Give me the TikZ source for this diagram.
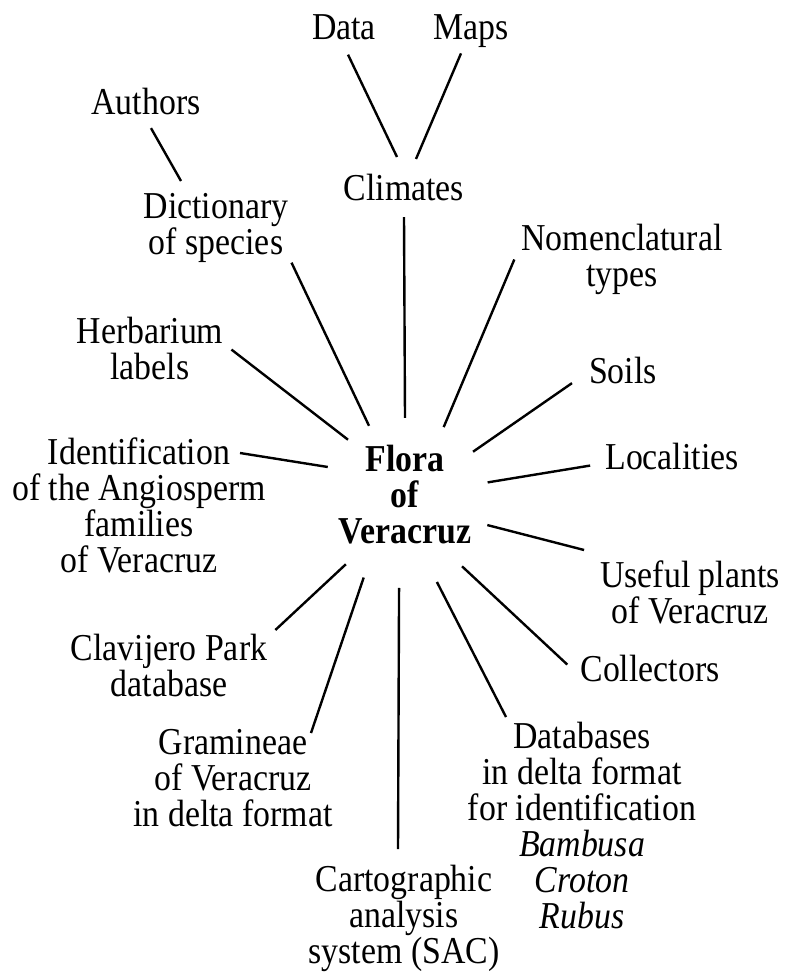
\documentclass[tikz,border=0pt]{standalone}
\usepackage{fontspec}
\setmainfont[FakeStretch=0.89]{Liberation Serif}
\usetikzlibrary{calc}

\begin{document}
\begin{tikzpicture}[x=0.5pt, y=-0.5pt, line width=1.2pt,
  lbl/.style={align=center, anchor=north, inner sep=0pt, font=\fontsize{19}{18}\selectfont},
  title/.style={align=center, inner sep=0pt, font=\fontsize{19}{18}\selectfont\bfseries},
  hub/.style={circle, minimum size=84pt, inner sep=0pt}]
\useasboundingbox (0,0) rectangle (784,973);
% the hub: text sits a little above the centre of the ring of spokes
\node[hub, label={[title, yshift=4pt]center:{Flora\\of\\Veracruz}}] (flora) at (405,503) {};
% topics around it
\node[lbl] (data) at (344,13) {Data};
\node[lbl] (maps) at (471,13) {Maps};
\node[lbl] (authors) at (146,87) {Authors};
\node[lbl] (climates) at (404,173) {Climates};
\node[lbl] (dict) at (216,192) {Dictionary\\of species};
\node[lbl] (nomen) at (622,223) {Nomenclatural\\types};
\node[lbl] (herb) at (150,316) {Herbarium\\labels};
\node[lbl] (soils) at (623,356) {Soils};
\node[lbl] (ident) at (139,437) {Identification\\of the Angiosperm\\families\\of Veracruz};
\node[lbl] (local) at (672,442) {Localities};
\node[lbl] (useful) at (690,560) {Useful plants\\of Veracruz};
\node[lbl] (clav) at (169,633) {Clavijero Park\\database};
\node[lbl] (coll) at (650,654) {Collectors};
\node[lbl] (gram) at (233,728) {Gramineae\\of Veracruz\\in delta format};
\node[lbl] (dbase) at (582,721) {Databases\\in delta format\\for identification\\\textit{Bambusa}\\\textit{Croton}\\\textit{Rubus}};
\node[lbl] (carto) at (404,864) {Cartographic\\analysis\\system (SAC)};
% second level
\draw ($(data.south)+(4,14)$) -- ($(climates.north)+(-7,-16)$);
\draw ($(maps.south)+(-10,5)$) -- ($(climates.north)+(12,-14)$);
\draw ($(authors.south)+(5,12)$) -- ($(dict.north)+(-35,-11)$);
% spokes: hub angle / end anchor / offset in px
\foreach \a/\n/\dx/\dy in {90/climates.south/0/15, 115.6/dict.south east/2/-1,
  63.4/nomen.west/-6/0, 132.7/herb.east/7/1, 37.3/soils.south west/-16/-2,
  155.9/ident.north east/-27/16, 14.7/local.west/-14/9, -15.2/useful.north west/-15/-10,
  -134.6/clav.north east/7/-3, -48.6/coll.west/-12/-4, -119.7/gram.north/78/5,
  -94.9/carto.north/-6/-15, -68.7/dbase.north/-76/-4}
  \draw (flora.\a) -- ($(\n)+(\dx,\dy)$);
\end{tikzpicture}
\end{document}
